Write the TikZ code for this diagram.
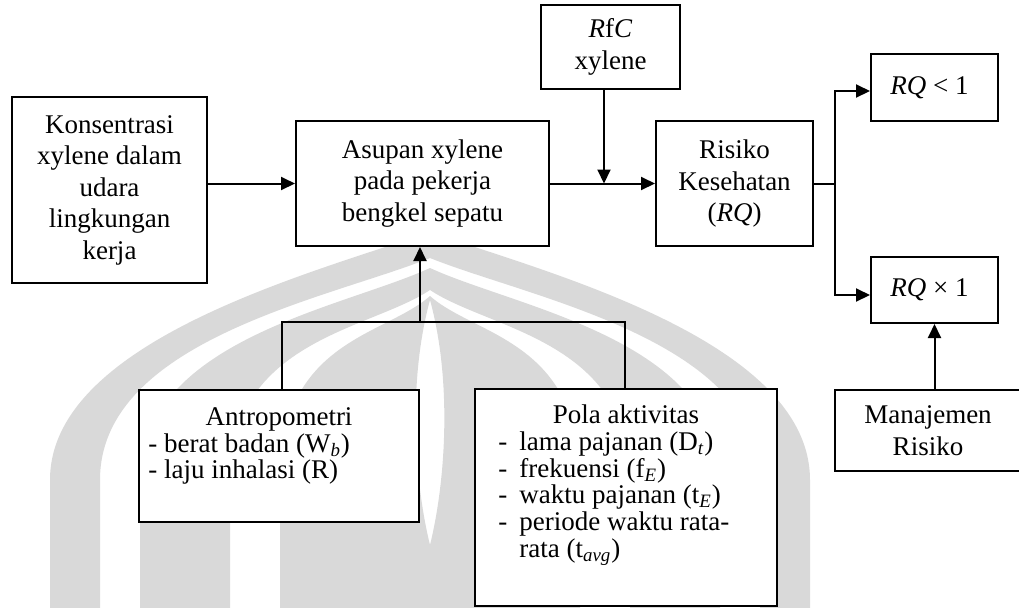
\documentclass[tikz,border=0pt]{standalone}
\usepackage{fontspec}
\setmainfont{Liberation Serif}
\usetikzlibrary{arrows.meta}
\definecolor{embgray}{gray}{0.85}
\begin{document}
\begin{tikzpicture}[x=0.5pt,y=-0.5pt,
  box/.style={draw,fill=white,line width=1pt,inner sep=0pt,align=center,
    font=\fontsize{13.5}{15.75}\selectfont},
  lst/.style={inner sep=0pt,font=\fontsize{13.5}{13.35}\selectfont},
  dashitem/.style={lst,anchor=base west,
    execute at begin node={\makebox[10.5pt][l]{-}}},
  contitem/.style={lst,anchor=base west,
    execute at begin node={\hspace*{10.5pt}}},
  tip/.tip={Triangle[length=7pt,width=6.5pt]},
  flow/.style={line width=1pt,-tip},
  wire/.style={line width=1pt},
  onion/.style 2 args={insert path={
    (430-#1,620) -- (430-#1,480)
    .. controls (430-#1,340) and (430-0.3*#1,#2+40) .. (430,#2)
    .. controls (430+0.3*#1,#2+40) and (430+#1,340) .. (430+#1,480)
    -- (430+#1,620) -- cycle}}]
\useasboundingbox (0,0) rectangle (1019,607);

% faint emblem in the background
\begin{scope}
\clip (0,0) rectangle (1019,607);
\fill[embgray,even odd rule] [onion={380}{232}] [onion={330}{258}]
  [onion={290}{268}] [onion={200}{290}] [onion={150}{296}]
  (430,300) .. controls (452,380) and (446,480) .. (430,545)
  .. controls (414,480) and (408,380) .. (430,300);
\end{scope}

% main chain
\node[box,minimum width=97.5pt,minimum height=93pt] (konz) at (109.5,190)
  {Konsentrasi\\xylene dalam\\udara\\lingkungan\\kerja};
\node[box,minimum width=126.5pt,minimum height=62.5pt] (asup) at (422.5,183.5)
  {Asupan xylene\\pada pekerja\\bengkel sepatu};
\node[box,minimum width=69.5pt,minimum height=42pt] (rfc) at (610.5,47)
  {\textit{R}f\textit{C}\\xylene};
\node[box,minimum width=78.5pt,minimum height=62.5pt] (risk) at (734.5,183.5)
  {Risiko\\Kesehatan\\(\textit{RQ})};
\node[box,minimum width=63.5pt,minimum height=33.5pt] (rqa) at (934.5,87.5)
  {\textit{RQ} < 1\hspace*{5pt}};
\node[box,minimum width=63.5pt,minimum height=33pt] (rqb) at (934.5,290)
  {\textit{RQ} × 1\hspace*{5pt}};
\node[box,minimum width=93pt,minimum height=40.5pt] (mgmt) at (928,430.5)
  {Manajemen\\Risiko};

% input boxes below
\node[box,minimum width=140pt,minimum height=66pt] (antro) at (279,456) {};
\node[box,minimum width=151pt,minimum height=108.5pt] (pola) at (626,497.5) {};

\node[lst,anchor=base] (antroT) at (279,425) {Antropometri};
\node[lst,anchor=base west] (antro1) at (148,452) {- berat badan (W\textsubscript{\textit{b}})};
\node[lst,anchor=base west] (antro2) at (148,478) {- laju inhalasi (R)};

\node[lst,anchor=base] (polaT) at (626,423) {Pola aktivitas};
\node[dashitem] (pola1) at (498,450) {lama pajanan (D\textsubscript{\textit{t}})};
\node[dashitem] (pola2) at (498,477) {frekuensi (f\textsubscript{\textit{E}})};
\node[dashitem] (pola3) at (498,503) {waktu pajanan (t\textsubscript{\textit{E}})};
\node[dashitem] (pola4) at (498,530) {periode waktu rata-};
\node[contitem] (pola5) at (498,557) {rata (t\textsubscript{\textit{avg}})};

% connectors
\draw[flow] (konz.east |- asup.west) -- (asup.west);
\draw[flow] (asup.east) -- (risk.west);
\coordinate (tap) at (604,183.5);
\draw[flow] (tap |- rfc.south) -- (tap);

\coordinate (fork) at (835,183.5);
\coordinate (forkT) at (835,91);
\coordinate (forkB) at (835,295);
\draw[wire] (risk.east) -- (fork);
\draw[wire,tip-tip] (forkT -| rqa.west) -- (forkT) -- (forkB) -- (forkB -| rqb.west);
\draw[flow] (rqb.south |- mgmt.north) -- (rqb.south);

\coordinate (jl) at (282,322);
\coordinate (jr) at (625,322);
\coordinate (jm) at (420,322);
\draw[wire] (jl |- antro.north) -- (jl) -- (jr) -- (jr |- pola.north);
\draw[flow] (jm) -- (jm |- asup.south);
\end{tikzpicture}
\end{document}
